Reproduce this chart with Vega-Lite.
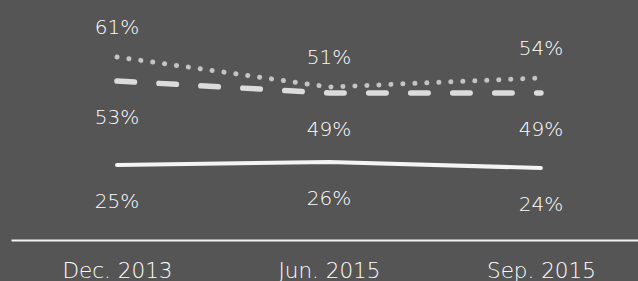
{
  "$schema": "https://vega.github.io/schema/vega-lite/v6.json",
  "width": 627,
  "height": 240,
  "autosize": {"type": "none"},
  "padding": {"left": 11, "top": 0, "right": 0, "bottom": 41},
  "background": "#555555",
  "config": {"view": {"stroke": null}, "font": "DejaVu Sans"},
  "data": {
    "values": [
      {"date": "Dec. 2013", "series": "dotted", "value": 0.61},
      {"date": "Jun. 2015", "series": "dotted", "value": 0.51},
      {"date": "Sep. 2015", "series": "dotted", "value": 0.54},
      {"date": "Dec. 2013", "series": "dashed", "value": 0.53},
      {"date": "Jun. 2015", "series": "dashed", "value": 0.49},
      {"date": "Sep. 2015", "series": "dashed", "value": 0.49},
      {"date": "Dec. 2013", "series": "solid", "value": 0.25},
      {"date": "Jun. 2015", "series": "solid", "value": 0.26},
      {"date": "Sep. 2015", "series": "solid", "value": 0.24}
    ]
  },
  "encoding": {
    "x": {
      "field": "date", "type": "ordinal", "sort": null,
      "scale": {"type": "point", "padding": 0.479, "align": 0.522},
      "axis": {
        "title": null, "labelAngle": 0, "ticks": false, "tickSize": 0,
        "domainColor": "#f4f4f4", "domainWidth": 2,
        "labelColor": "#ffffff", "labelFontSize": 21.5, "labelFont": "DejaVu Sans", "labelFontWeight": 300,
        "labelBaseline": "alphabetic", "labelPadding": 37, "grid": false
      }
    },
    "y": {"field": "value", "type": "quantitative", "scale": {"domain": [0, 0.8]}, "axis": null}
  },
  "layer": [
    {
      "transform": [{"filter": "datum.series === 'solid'"}],
      "mark": {"type": "line", "color": "#f4f4f4", "strokeWidth": 4, "strokeCap": "round"}
    },
    {
      "transform": [{"filter": "datum.series === 'dashed'"}],
      "mark": {"type": "line", "color": "#dcdcdc", "strokeWidth": 5.5, "strokeCap": "round", "strokeDash": [17.5, 24.5]}
    },
    {
      "transform": [{"filter": "datum.series === 'dotted'"}],
      "mark": {"type": "line", "color": "#c4c4c4", "strokeWidth": 5, "strokeCap": "round", "strokeDash": [0.1, 11.9]}
    },
    {
      "transform": [{"filter": "datum.series === 'dotted'"}],
      "mark": {"type": "text", "color": "#ffffff", "fontSize": 20, "fontWeight": 300, "baseline": "alphabetic", "dy": -23},
      "encoding": {"text": {"field": "value", "type": "quantitative", "format": ".0%"}}
    },
    {
      "transform": [{"filter": "datum.series !== 'dotted'"}],
      "mark": {"type": "text", "color": "#ffffff", "fontSize": 20, "fontWeight": 300, "baseline": "alphabetic", "dy": 43},
      "encoding": {"text": {"field": "value", "type": "quantitative", "format": ".0%"}}
    }
  ]
}
